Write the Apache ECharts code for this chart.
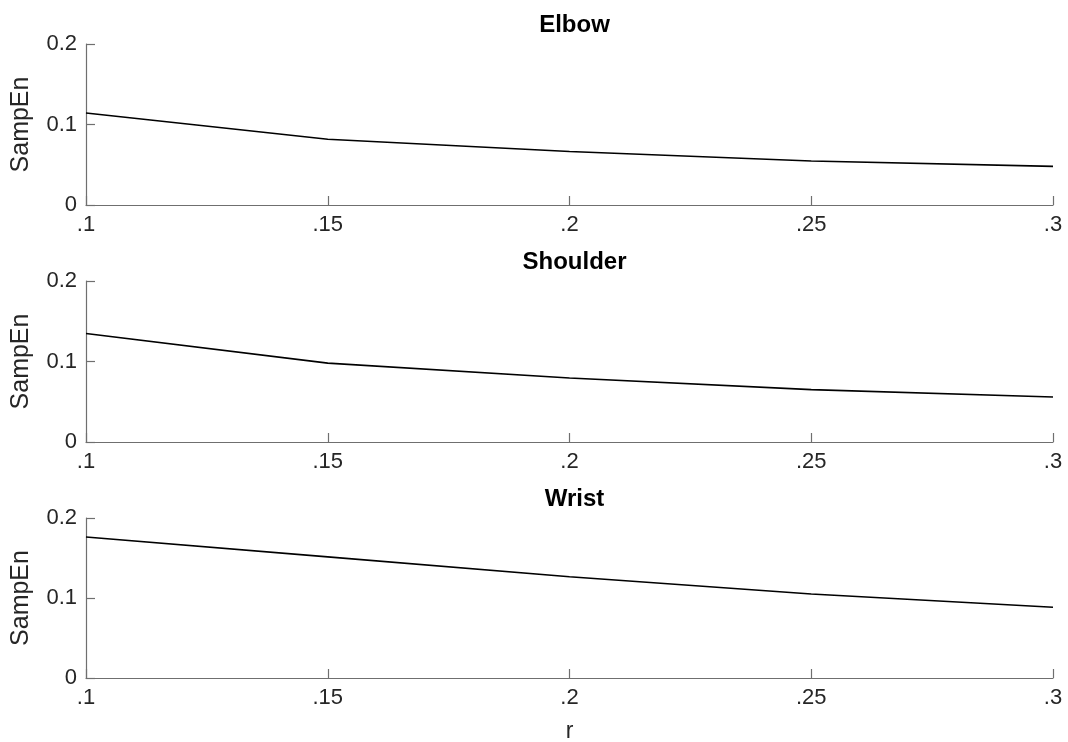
<!DOCTYPE html>
<html>
<head>
<meta charset="utf-8">
<script src="https://cdn.jsdelivr.net/npm/echarts@6/dist/echarts.min.js"></script>
<style>html,body{margin:0;padding:0;background:#fff}#c{width:1068px;height:742px}</style>
</head>
<body>
<div id="c"></div>
<script>
const rValues = [0.10, 0.15, 0.20, 0.25, 0.30];
const titles = ['Elbow', 'Shoulder', 'Wrist'];
const elbow = [0.1143, 0.0816, 0.0665, 0.0547, 0.0480];
const shoulder = [0.1347, 0.0980, 0.0795, 0.0651, 0.0559];
const wrist = [0.1763, 0.1514, 0.1265, 0.1050, 0.0884];
const yTicks = [0, 0.1, 0.2];
const xLabel = 'r';
const yLabel = 'SampEn';

const seriesData = [elbow, shoulder, wrist];
const gridTops = [44, 281, 518];
const gridHeights = [161, 161, 160];
const titleTops = [8, 245, 482];
const FONT = 'Liberation Sans, Arial, Helvetica, sans-serif';
const TXT = '#262626';
const AX = '#6f6f6f';

const chart = echarts.init(document.getElementById('c'), null, {renderer: 'canvas'});
const grids = [], xAxes = [], yAxes = [], series = [], title = [];
for (let i = 0; i < 3; i++) {
  grids.push({left: 86, right: 15, top: gridTops[i], height: gridHeights[i],
    containLabel: false, outerBoundsMode: 'none'});
  title.push({
    text: titles[i], left: 569.5, top: titleTops[i], textAlign: 'center',
    textStyle: {fontFamily: FONT, fontSize: 24, fontWeight: 'bold', color: '#000'}
  });
  xAxes.push({
    type: 'value', gridIndex: i, min: 0.1, max: 0.3, interval: 0.05,
    name: i === 2 ? xLabel : '', nameLocation: 'middle', nameGap: 42,
    nameTextStyle: {fontFamily: FONT, fontSize: 23, color: TXT},
    axisLine: {show: true, onZero: false, lineStyle: {color: AX, width: 1.2}},
    axisTick: {show: true, inside: true, length: 9, lineStyle: {color: AX, width: 1.2}},
    axisLabel: {
      fontFamily: FONT, fontSize: 22, color: TXT, margin: 9,
      formatter: v => String(+v.toFixed(2)).replace(/^0/, '')
    },
    splitLine: {show: false}
  });
  yAxes.push({
    type: 'value', gridIndex: i, min: yTicks[0], max: yTicks[yTicks.length - 1], interval: 0.1,
    name: yLabel, nameLocation: 'middle', nameGap: 52, nameRotate: 90,
    nameTextStyle: {fontFamily: FONT, fontSize: 25, color: TXT},
    axisLine: {show: true, lineStyle: {color: AX, width: 1.2}},
    axisTick: {show: true, inside: true, length: 9, lineStyle: {color: AX, width: 1.2}},
    axisLabel: {
      fontFamily: FONT, fontSize: 22, color: TXT, margin: 9,
      formatter: v => String(+v.toFixed(1))
    },
    splitLine: {show: false}
  });
  series.push({
    type: 'line', xAxisIndex: i, yAxisIndex: i,
    data: rValues.map((r, k) => [r, seriesData[i][k]]),
    showSymbol: false, symbol: 'none', smooth: false,
    lineStyle: {color: '#000', width: 1.6}, animation: false
  });
}
chart.setOption({
  animation: false,
  backgroundColor: '#fff',
  title: title,
  grid: grids,
  xAxis: xAxes,
  yAxis: yAxes,
  series: series
});
</script>
</body>
</html>
